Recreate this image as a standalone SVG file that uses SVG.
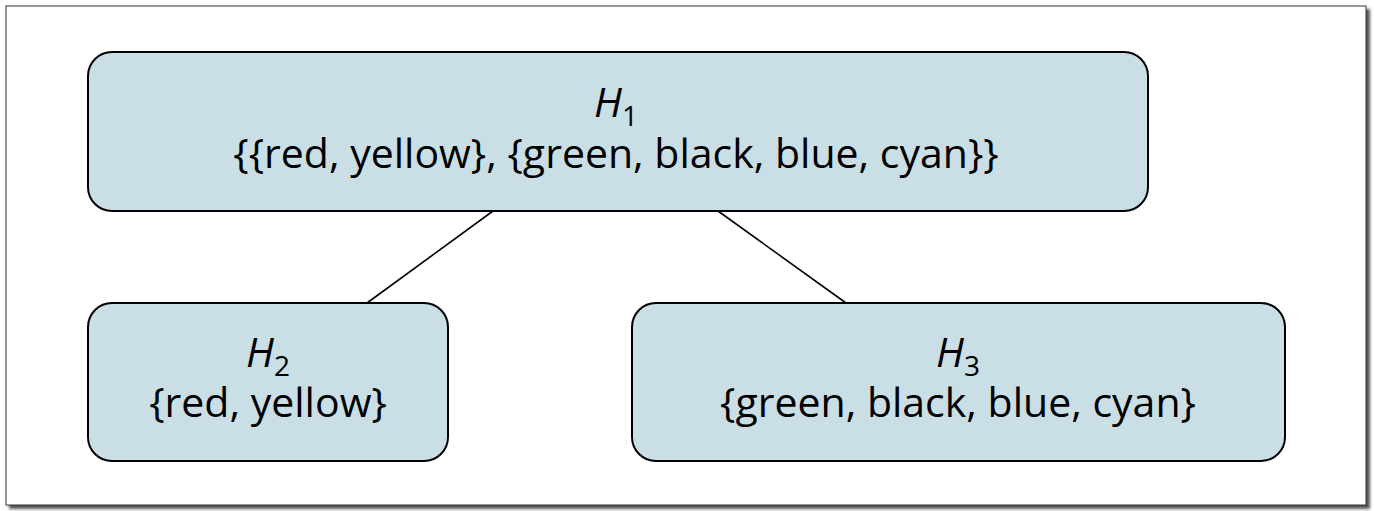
<svg xmlns="http://www.w3.org/2000/svg" width="1374" height="511" viewBox="0 0 1374 511">
  <style>
    .node { fill: #c9dfe5; stroke: #000; stroke-width: 2; }
    .label { font-family: "Open Sans", "Noto Sans", sans-serif; font-size: 41px; fill: #000; text-anchor: middle; }
    .it { font-style: italic; }
    .sub { font-size: 28px; }
    .edge { stroke: #000; stroke-width: 1.6; fill: none; }
  </style>
  <defs>
    <filter id="shadow" x="-5%" y="-5%" width="110%" height="110%">
      <feGaussianBlur stdDeviation="1.5"/>
    </filter>
  </defs>
  <!-- page frame with drop shadow -->
  <rect x="9" y="9" width="1361" height="500" fill="#555" filter="url(#shadow)"/>
  <rect x="6" y="6" width="1360" height="499" fill="#fff" stroke="#333" stroke-width="1"/>

  <g id="connectors">
    <line class="edge" x1="493" y1="211" x2="367" y2="303"/>
    <line class="edge" x1="718" y1="211" x2="846" y2="303"/>
  </g>

  <g id="H1">
    <rect class="node" x="88" y="52" width="1060" height="159" rx="24"/>
    <text class="label" x="616" y="117"><tspan class="it">H</tspan><tspan class="sub" dy="9">1</tspan></text>
    <text class="label" x="616" y="168">{{red, yellow}, {green, black, blue, cyan}}</text>
  </g>

  <g id="H2">
    <rect class="node" x="88" y="303" width="360" height="158" rx="24"/>
    <text class="label" x="268" y="367"><tspan class="it">H</tspan><tspan class="sub" dy="9">2</tspan></text>
    <text class="label" x="268" y="417">{red, yellow}</text>
  </g>

  <g id="H3">
    <rect class="node" x="632" y="303" width="653" height="158" rx="24"/>
    <text class="label" x="958" y="367"><tspan class="it">H</tspan><tspan class="sub" dy="9">3</tspan></text>
    <text class="label" x="958" y="417">{green, black, blue, cyan}</text>
  </g>
</svg>
